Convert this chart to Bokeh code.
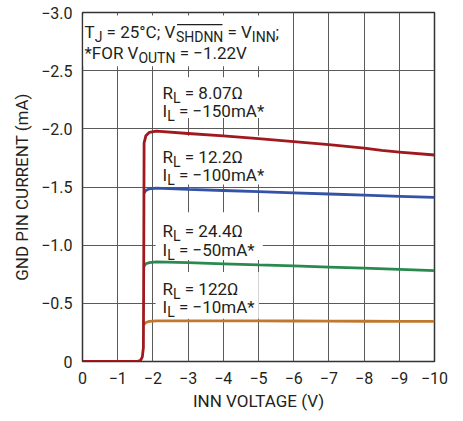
from bokeh.plotting import figure
from bokeh.models import Range1d, FixedTicker, Label, BoxAnnotation
from bokeh.embed import file_html
from bokeh.resources import INLINE

# ---------------- data ----------------
x_ticks = [0, -1, -2, -3, -4, -5, -6, -7, -8, -9, -10]
x_tick_labels = ["0", "\u22121", "\u22122", "\u22123", "\u22124", "\u22125",
                 "\u22126", "\u22127", "\u22128", "\u22129", "\u221210"]
y_ticks = [0, -0.5, -1.0, -1.5, -2.0, -2.5, -3.0]
y_tick_labels = ["0", "\u22120.5", "\u22121.0", "\u22121.5", "\u22122.0", "\u22122.5", "\u22123.0"]

red_v = [0.0, -1.0, -1.55, -1.65, -1.70, -1.73, -1.74, -1.75, -1.80, -1.90, -2.10,
         -3.0, -4.0, -5.0, -6.0, -7.0, -8.0, -8.5, -9.0, -10.0]
red_i = [0.0, 0.0, 0.0, -0.01, -0.04, -0.12, -0.9, -1.88, -1.94, -1.97, -1.98,
         -1.96, -1.94, -1.915, -1.89, -1.865, -1.835, -1.815, -1.80, -1.775]

load_v = [-1.75, -1.80, -1.90, -2.10, -3.0, -4.0, -5.0, -6.0, -7.0, -8.0, -9.0, -10.0]
blue_i = [-1.45, -1.47, -1.485, -1.49, -1.48, -1.47, -1.46, -1.45, -1.44, -1.43, -1.42, -1.41]
green_i = [-0.82, -0.84, -0.85, -0.857, -0.85, -0.84, -0.83, -0.822, -0.812, -0.802, -0.792, -0.782]
orange_i = [-0.32, -0.335, -0.345, -0.35, -0.35, -0.35, -0.349, -0.348, -0.347, -0.346, -0.345, -0.345]

FONT = "Roboto"
TXT = "#231f20"

p = figure(width=455, height=413, output_backend="svg", toolbar_location=None,
           x_range=Range1d(0, -10), y_range=Range1d(0, -3),
           min_border_left=82, min_border_right=21, min_border_top=12, min_border_bottom=50)
p.background_fill_color = "white"
p.border_fill_color = "white"
p.outline_line_color = "#333333"
p.outline_line_width = 1.5

p.xaxis.ticker = FixedTicker(ticks=x_ticks)
p.yaxis.ticker = FixedTicker(ticks=y_ticks)
p.xaxis.major_label_overrides = dict(zip(x_ticks, x_tick_labels))
p.yaxis.major_label_overrides = dict(zip(y_ticks, y_tick_labels))
for ax in (p.xaxis[0], p.yaxis[0]):
    ax.axis_line_color = None
    ax.major_tick_line_color = None
    ax.minor_tick_line_color = None
    ax.major_tick_in = 0
    ax.major_tick_out = 0
    ax.minor_tick_in = 0
    ax.minor_tick_out = 0
    ax.major_label_text_font = FONT
    ax.major_label_text_font_size = "16px"
    ax.major_label_text_color = TXT
    ax.axis_label_text_font = FONT
    ax.axis_label_text_font_size = "17px"
    ax.axis_label_text_font_style = "normal"
    ax.axis_label_text_color = TXT
    ax.major_label_standoff = 10
p.xaxis.axis_label = "INN VOLTAGE (V)"
p.yaxis.axis_label = "GND PIN CURRENT (mA)"
p.xaxis.axis_label_standoff = 4
p.yaxis.axis_label_standoff = 6

p.grid.grid_line_color = "#5a5a5a"
p.grid.grid_line_width = 1
p.xgrid.ticker = FixedTicker(ticks=x_ticks)
p.ygrid.ticker = FixedTicker(ticks=y_ticks)

# ---- helpers for text layout (px -> data) ----
PXV = 351.5 / 10.0   # px per volt
PXI = 351.0 / 3.0    # px per mA
def dx(px):
    return -(px - 82) / PXV
def dy(py):
    return -(363 - py) / PXI

W = {' ': .248, '\u00a0': .248, '=': .549, '0': .5615, '1': .5615, '2': .5615, '3': .5615,
     '4': .5615, '5': .5615, '6': .5615, '7': .5615, '8': .5615, '9': .5615, '.': .263,
     ';': .236, '\u2212': .568, '\u03a9': .68, 'm': .874, 'A': .652, '*': .431,
     '\u00b0': .384, 'C': .652, 'V': .636, 'T': .597, 'J': .552, 'S': .594, 'H': .712,
     'D': .655, 'N': .712, 'I': .272, 'O': .688, 'U': .648, 'F': .552, 'R': .615, 'L': .538}
def width(s, size):
    return sum(W.get(c, .56) for c in s) * size

MAIN = 17
SUB = 14
DROP = 5
NB = "\u00a0"

def white_box(x0, x1, y0, y1):
    b = BoxAnnotation(left=dx(x0), right=dx(x1), bottom=dy(y1), top=dy(y0),
                      fill_color="white", fill_alpha=1.0, line_color=None, level="underlay")
    p.add_layout(b)

def rich(parts, left_px, base_px):
    off = 0.0
    spans = []
    for text, sub in parts:
        text = text.replace(" ", NB)
        size = SUB if sub else MAIN
        lab = Label(x=dx(left_px), y=dy(base_px), x_offset=off, y_offset=-DROP if sub else 0,
                    text=text, text_font=FONT, text_font_size=f"{size}px",
                    text_color=TXT, text_baseline="alphabetic", text_align="left")
        p.add_layout(lab)
        w = width(text, size)
        spans.append((left_px + off, left_px + off + w))
        off += w
    return spans

# white backgrounds behind the annotations
white_box(83, 286, 15, 66)
white_box(155, 266, 77, 118)
white_box(155, 268, 136, 185)
white_box(155, 262, 213, 261)
white_box(155, 258, 273, 320)

sp = rich([("T", False), ("J", True), (" = 25\u00b0C; V", False), ("SHDNN", True),
           (" = V", False), ("INN", True), (";", False)], 84, 32)
ol0, ol1 = sp[3]
p.add_layout(BoxAnnotation(left=dx(ol0 + 1), right=dx(ol1 - 1), top=dy(23.5), bottom=dy(24.8),
                           fill_color=TXT, fill_alpha=1.0, line_color=None))
rich([("*FOR V", False), ("OUTN", True), (" = \u22121.22V", False)], 84, 53)

rich([("R", False), ("L", True), (" = 8.07\u03a9", False)], 162, 93)
rich([("I", False), ("L", True), (" = \u2212150mA*", False)], 162, 111.5)
rich([("R", False), ("L", True), (" = 12.2\u03a9", False)], 162, 157)
rich([("I", False), ("L", True), (" = \u2212100mA*", False)], 162, 175.5)
rich([("R", False), ("L", True), (" = 24.4\u03a9", False)], 162, 232)
rich([("I", False), ("L", True), (" = \u221250mA*", False)], 162, 250.5)
rich([("R", False), ("L", True), (" = 122\u03a9", False)], 162, 290)
rich([("I", False), ("L", True), (" = \u221210mA*", False)], 162, 308.5)

# curves
LW = 2.8
p.line(load_v, orange_i, line_color="#c0782f", line_width=LW)
p.line(load_v, green_i, line_color="#2a8a4e", line_width=LW)
p.line(load_v, blue_i, line_color="#3553a4", line_width=LW)
p.line(red_v, red_i, line_color="#a0191e", line_width=LW, line_join="round")

open("out.html", "w").write(file_html(p, INLINE))
